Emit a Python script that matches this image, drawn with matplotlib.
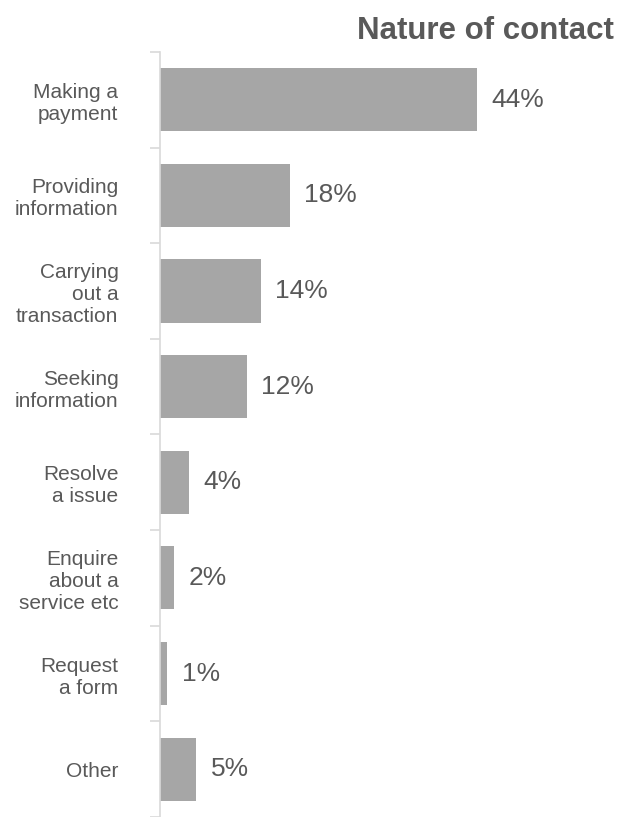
import numpy as np
import matplotlib.pyplot as plt

plt.rcParams['font.family'] = ['Liberation Sans', 'DejaVu Sans']

categories = ["Making a\npayment", "Providing\ninformation", "Carrying\nout a\ntransaction",
              "Seeking\ninformation", "Resolve\na issue", "Enquire\nabout a\nservice etc",
              "Request\na form", "Other"]
shares = [44, 18, 14, 12, 4, 2, 1, 5]
value_labels = ["44%", "18%", "14%", "12%", "4%", "2%", "1%", "5%"]

text_col = '#595959'
bar_col = '#A6A6A6'
axis_col = '#D9D9D9'

fig = plt.figure(figsize=(6.18, 8.17), dpi=100)
ax = fig.add_axes([0.259, 0.0, 0.70, 0.9364])

y = np.arange(len(categories))
ax.barh(y, shares, height=0.66, color=bar_col)
ax.set_ylim(len(categories) - 0.5, -0.5)
ax.set_xlim(0, 60)

for yi, v, lab in zip(y, shares, value_labels):
    ax.text(v + 2.0, yi, lab, va='center', ha='left', fontsize=19, color=text_col)

# category labels at bar centres, tick marks on the category boundaries
ax.set_yticks(y)
ax.set_yticklabels(categories, fontsize=15, color=text_col, ha='right',
                   multialignment='right', linespacing=1.2)
ax.tick_params(axis='y', which='major', length=0, pad=30)
ax.set_yticks(np.arange(len(categories) + 1) - 0.5, minor=True)
ax.tick_params(axis='y', which='minor', length=7.2, width=1.2, color=axis_col)

ax.set_xticks([])
for side in ['top', 'right', 'bottom']:
    ax.spines[side].set_visible(False)
ax.spines['left'].set_color(axis_col)
ax.spines['left'].set_linewidth(1.2)

fig.text(0.994, 0.962, "Nature of contact", ha='right', va='center',
         fontsize=22.5, fontweight='bold', color=text_col)

fig.savefig('out.png', dpi=100)
